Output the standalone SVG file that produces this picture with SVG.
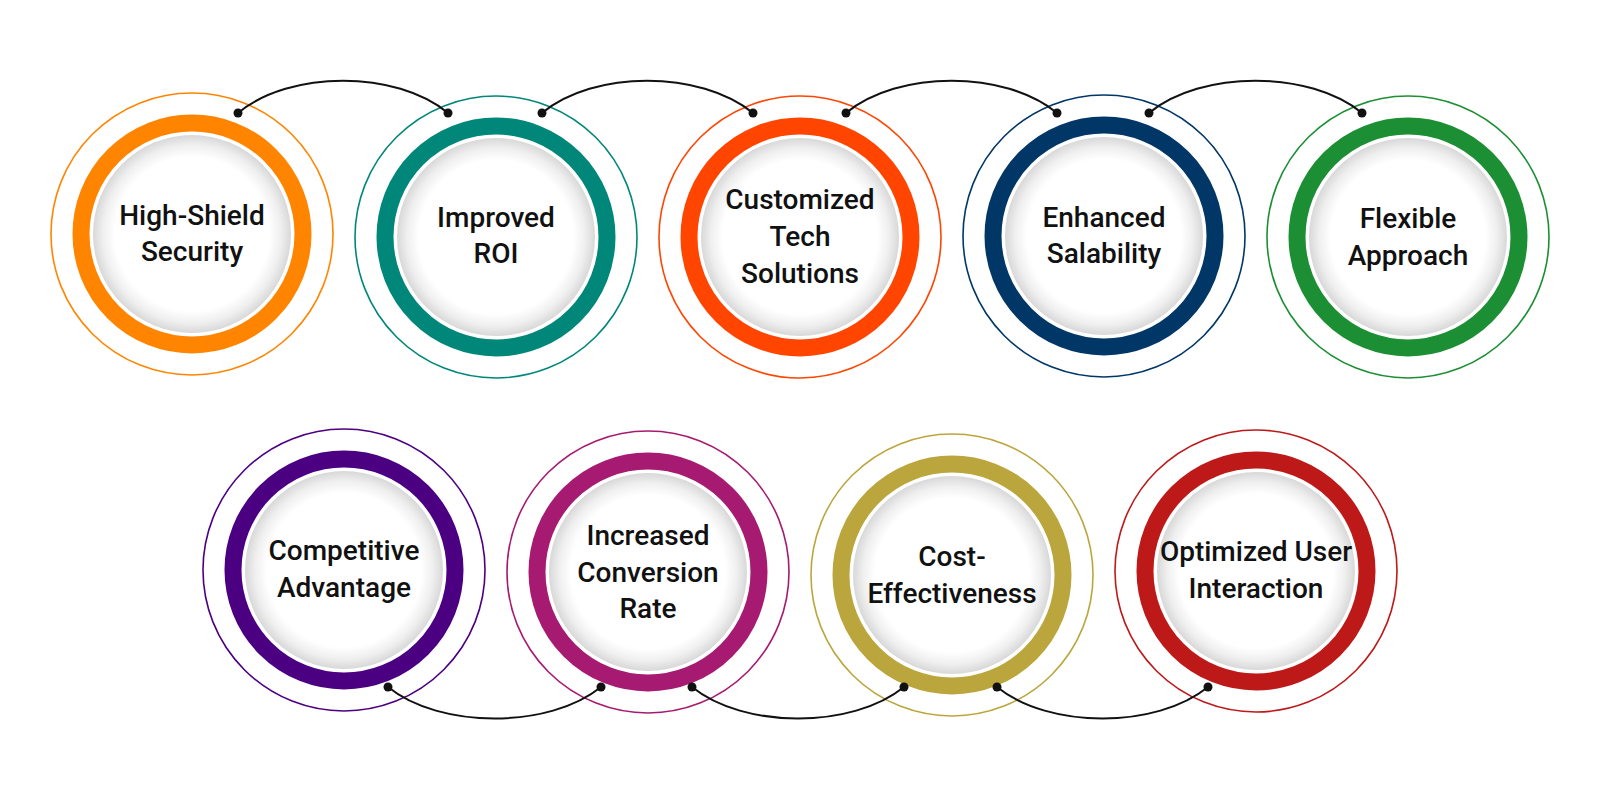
<svg xmlns="http://www.w3.org/2000/svg" width="1600" height="800" viewBox="0 0 1600 800">
<style>
.bg{fill:#ffffff}
.outer{fill:none;stroke-width:1.6}
.ring{fill:none;stroke-width:17}
.disc{fill:url(#discGrad)}
.lbl{font-family:Roboto,"Liberation Sans",Arial,sans-serif;font-weight:500;font-size:28px;fill:#111111;text-anchor:middle}
.conn{fill:none;stroke:#111111;stroke-width:2}
.dot{fill:#111111}
</style>
<defs>
<radialGradient id="discGrad" cx="0.5" cy="0.5" r="0.5">
<stop offset="0" stop-color="#ffffff"/>
<stop offset="0.78" stop-color="#ffffff"/>
<stop offset="0.9" stop-color="#efefef"/>
<stop offset="1" stop-color="#d8d8d8"/>
</radialGradient>
</defs>
<rect class="bg" x="0" y="0" width="1600" height="800"/>

<g id="node-high-shield-security">
<circle class="outer" cx="192" cy="234" r="141" stroke="#FF8500"/>
<circle class="ring" cx="192" cy="234" r="111" stroke="#FF8500"/>
<circle class="disc" cx="192" cy="234" r="99"/>
<text class="lbl" x="192" y="225">High-Shield</text>
<text class="lbl" x="192" y="261">Security</text>
</g>

<g id="node-improved-roi">
<circle class="outer" cx="496" cy="237" r="141" stroke="#00877A"/>
<circle class="ring" cx="496" cy="237" r="111" stroke="#00877A"/>
<circle class="disc" cx="496" cy="237" r="99"/>
<text class="lbl" x="496" y="227">Improved</text>
<text class="lbl" x="496" y="263">ROI</text>
</g>

<g id="node-customized-tech-solutions">
<circle class="outer" cx="800" cy="237" r="141" stroke="#FF4500"/>
<circle class="ring" cx="800" cy="237" r="111" stroke="#FF4500"/>
<circle class="disc" cx="800" cy="237" r="99"/>
<text class="lbl" x="800" y="209">Customized</text>
<text class="lbl" x="800" y="246">Tech</text>
<text class="lbl" x="800" y="283">Solutions</text>
</g>

<g id="node-enhanced-salability">
<circle class="outer" cx="1104" cy="236" r="141" stroke="#003767"/>
<circle class="ring" cx="1104" cy="236" r="111" stroke="#003767"/>
<circle class="disc" cx="1104" cy="236" r="99"/>
<text class="lbl" x="1104" y="227">Enhanced</text>
<text class="lbl" x="1104" y="263">Salability</text>
</g>

<g id="node-flexible-approach">
<circle class="outer" cx="1408" cy="237" r="141" stroke="#1C8E33"/>
<circle class="ring" cx="1408" cy="237" r="111" stroke="#1C8E33"/>
<circle class="disc" cx="1408" cy="237" r="99"/>
<text class="lbl" x="1408" y="228">Flexible</text>
<text class="lbl" x="1408" y="265">Approach</text>
</g>

<g id="node-competitive-advantage">
<circle class="outer" cx="344" cy="570" r="141" stroke="#4B0082"/>
<circle class="ring" cx="344" cy="570" r="111" stroke="#4B0082"/>
<circle class="disc" cx="344" cy="570" r="99"/>
<text class="lbl" x="344" y="560">Competitive</text>
<text class="lbl" x="344" y="597">Advantage</text>
</g>

<g id="node-increased-conversion-rate">
<circle class="outer" cx="648" cy="572" r="141" stroke="#A61A71"/>
<circle class="ring" cx="648" cy="572" r="111" stroke="#A61A71"/>
<circle class="disc" cx="648" cy="572" r="99"/>
<text class="lbl" x="648" y="545">Increased</text>
<text class="lbl" x="648" y="582">Conversion</text>
<text class="lbl" x="648" y="618">Rate</text>
</g>

<g id="node-cost-effectiveness">
<circle class="outer" cx="952" cy="575" r="141" stroke="#BBA63D"/>
<circle class="ring" cx="952" cy="575" r="111" stroke="#BBA63D"/>
<circle class="disc" cx="952" cy="575" r="99"/>
<text class="lbl" x="952" y="566">Cost-</text>
<text class="lbl" x="952" y="603">Effectiveness</text>
</g>

<g id="node-optimized-user-interaction">
<circle class="outer" cx="1256" cy="571" r="141" stroke="#BE1919"/>
<circle class="ring" cx="1256" cy="571" r="111" stroke="#BE1919"/>
<circle class="disc" cx="1256" cy="571" r="99"/>
<text class="lbl" x="1256" y="561">Optimized User</text>
<text class="lbl" x="1256" y="598">Interaction</text>
</g>

<g id="connectors">
<path class="conn" d="M238,113 C290,70 396,70 448,113"/>
<circle class="dot" cx="238" cy="113" r="4.5"/>
<circle class="dot" cx="448" cy="113" r="4.5"/>

<path class="conn" d="M542,113 C594,70 700,70 753,113"/>
<circle class="dot" cx="542" cy="113" r="4.5"/>
<circle class="dot" cx="753" cy="113" r="4.5"/>

<path class="conn" d="M846,113 C898,70 1005,70 1057,113"/>
<circle class="dot" cx="846" cy="113" r="4.5"/>
<circle class="dot" cx="1057" cy="113" r="4.5"/>

<path class="conn" d="M1149,113 C1201,70 1310,70 1362,113"/>
<circle class="dot" cx="1149" cy="113" r="4.5"/>
<circle class="dot" cx="1362" cy="113" r="4.5"/>

<path class="conn" d="M388,687 C440,729 549,729 601,687"/>
<circle class="dot" cx="388" cy="687" r="4.5"/>
<circle class="dot" cx="601" cy="687" r="4.5"/>

<path class="conn" d="M692,687 C744,729 852,729 904,687"/>
<circle class="dot" cx="692" cy="687" r="4.5"/>
<circle class="dot" cx="904" cy="687" r="4.5"/>

<path class="conn" d="M997,687 C1049,729 1156,729 1208,687"/>
<circle class="dot" cx="997" cy="687" r="4.5"/>
<circle class="dot" cx="1208" cy="687" r="4.5"/>
</g>
</svg>
